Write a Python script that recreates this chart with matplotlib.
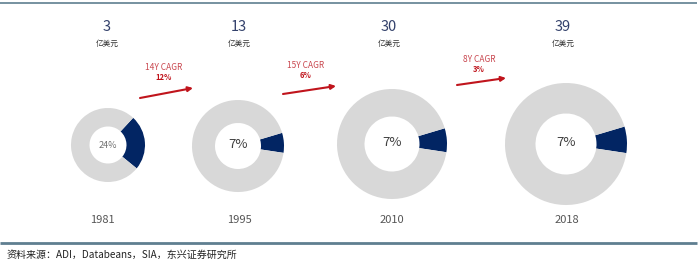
import matplotlib
matplotlib.use("Agg")
import matplotlib.pyplot as plt

plt.rcParams['font.family'] = ['Noto Sans CJK SC', 'DejaVu Sans']

# ---- data ----
years = ["1981", "1995", "2010", "2018"]
market_size = ["3", "13", "30", "39"]          # 亿美元
share_pct = [24, 7, 7, 7]                        # dark slice share (%)
cagr_period = ["14Y CAGR", "15Y CAGR", "8Y CAGR"]
cagr_value = ["12%", "6%", "3%"]
unit = "亿美元"
source = "资料来源：ADI，Databeans，SIA，东兴证券研究所"

# ---- layout (pixel coordinates) ----
cx = [108, 238, 392, 566]
cy = [145, 146, 144, 144]
radii = [37, 46, 55, 61]
val_x = [107, 239, 389, 563]
year_x = [102, 239, 392, 567]
cagr_x = [164, 306, 479]
cagr_y = [68, 65, 59]
arrows = [((140, 98), (193, 88)), ((283, 94), (336, 86)), ((457, 85), (506, 78))]

GRAY = "#d8d8d8"
NAVY = "#022563"
RED_TXT = "#c9474f"
RED_ARR = "#c0141c"
LINE = "#5f7f90"

fig = plt.figure(figsize=(7.0, 2.65), dpi=100)
ax = fig.add_axes([0, 0, 1, 1])

for i in range(4):
    p = share_pct[i]
    span = p / 100 * 360
    # y axis is inverted, so visual angle +4deg corresponds to data angle -4deg
    start = -4 - span / 2
    ax.pie([p, 100 - p], colors=[NAVY, GRAY], center=(cx[i], cy[i]),
           radius=radii[i], startangle=start, counterclock=True,
           wedgeprops=dict(width=radii[i] * 0.5, linewidth=0))
    if i == 0:
        ax.text(cx[i], cy[i], f"{p}%", ha="center", va="center",
                fontsize=6.5, color="#707070")
    else:
        ax.text(cx[i], cy[i] - 2, f"{p}%", ha="center", va="center",
                fontsize=9.5, color="#404040")
    ax.text(val_x[i], 27, market_size[i], ha="center", va="center",
            fontsize=10.5, color="#33416b")
    ax.text(val_x[i], 44, unit, ha="center", va="center",
            fontsize=5.5, color="#333333")
    ax.text(year_x[i], 220, years[i], ha="center", va="center",
            fontsize=8, color="#555555")

for j in range(3):
    ax.text(cagr_x[j], cagr_y[j], cagr_period[j], ha="center", va="center",
            fontsize=6, color=RED_TXT)
    ax.text(cagr_x[j], cagr_y[j] + 10, cagr_value[j], ha="center", va="center",
            fontsize=5.5, color=RED_ARR, fontweight="bold")
    (x0, y0), (x1, y1) = arrows[j]
    ax.annotate("", xy=(x1, y1), xytext=(x0, y0),
                arrowprops=dict(arrowstyle="-|>", color=RED_ARR, lw=1.5,
                                mutation_scale=7, shrinkA=0, shrinkB=0))

ax.plot([0, 697], [3, 3], color=LINE, lw=1.2, solid_capstyle="butt")
ax.plot([0, 697], [242.5, 242.5], color=LINE, lw=2, solid_capstyle="butt")
ax.text(7, 255, source, ha="left", va="center", fontsize=7.2, color="#222222")

ax.set_xlim(0, 700)
ax.set_ylim(265, 0)
ax.set_aspect("auto")
ax.axis("off")

fig.savefig("out.png", dpi=100)
